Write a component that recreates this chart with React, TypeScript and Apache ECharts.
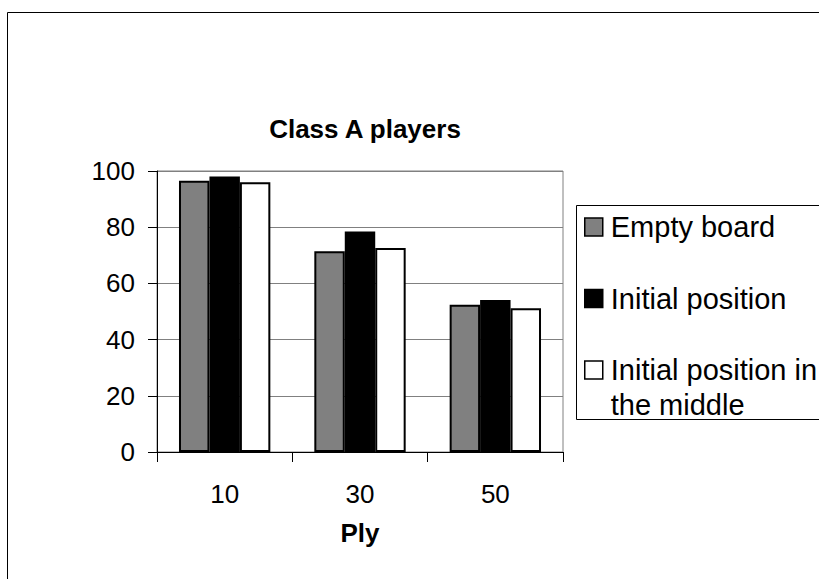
import React, { useEffect, useRef } from "react";
import * as echarts from "echarts";

const categories = ["10", "30", "50"];
const seriesNames = ["Empty board", "Initial position", "Initial position in the middle"];
const emptyBoard = [96.5, 71.4, 52.4];
const initialPosition = [98.0, 78.5, 54.1];
const initialMiddle = [96.0, 72.6, 51.2];
const yTicks = { min: 0, max: 100, interval: 20 };

const FONT = "'Liberation Sans', Arial, sans-serif";

export default function App() {
  const ref = useRef<HTMLDivElement>(null);
  useEffect(() => {
    if (!ref.current) return;
    const chart = echarts.init(ref.current, undefined, { renderer: "svg" });
    const colors = ["#808080", "#000000", "#ffffff"];
    const values = [emptyBoard, initialPosition, initialMiddle];
    const legendText = { fontFamily: FONT, fontSize: 29, color: "#000", lineHeight: 35, padding: [0, 0, 0, 3] };
    chart.setOption({
      animation: false,
      backgroundColor: "#ffffff",
      textStyle: { fontFamily: FONT },
      title: {
        text: "Class A players",
        left: 360,
        top: 111,
        textAlign: "center",
        textStyle: { fontFamily: FONT, fontSize: 26, fontWeight: "bold", color: "#000" },
      },
      graphic: [
        {
          type: "rect",
          shape: { x: 7.5, y: 12.5, width: 900, height: 700 },
          style: { fill: "none", stroke: "#000", lineWidth: 1 },
          silent: true,
          z: -10,
        },
        {
          type: "rect",
          shape: { x: 576.5, y: 205.5, width: 300, height: 214 },
          style: { fill: "#fff", stroke: "#000", lineWidth: 1 },
          silent: true,
          z: -5,
        },
      ],
      legend: [
        {
          data: [seriesNames[0], seriesNames[1]],
          orient: "vertical",
          left: 579,
          top: 204.5,
          itemWidth: 18,
          itemHeight: 18,
          itemGap: 36.5,
          icon: "rect",
          itemStyle: { borderColor: "#000", borderWidth: 1.5 },
          textStyle: legendText,
          selectedMode: false,
        },
        {
          data: [seriesNames[2]],
          orient: "vertical",
          left: 579,
          top: 312.5,
          itemWidth: 18,
          itemHeight: 18,
          icon: "rect",
          itemStyle: { borderColor: "#000", borderWidth: 1.5 },
          formatter: () => "\nInitial position in\nthe middle",
          textStyle: legendText,
          selectedMode: false,
        },
      ],
      grid: {
        left: 157,
        top: 171,
        right: 256,
        bottom: 127,
        show: true,
        borderColor: "#808080",
        borderWidth: 1,
        backgroundColor: "transparent",
      },
      xAxis: {
        type: "category",
        data: categories,
        name: "Ply",
        nameLocation: "middle",
        nameGap: 68,
        nameTextStyle: { fontFamily: FONT, fontSize: 26, fontWeight: "bold", color: "#000" },
        axisLine: { lineStyle: { color: "#000", width: 1 } },
        axisTick: { show: true, length: 10, lineStyle: { color: "#000" } },
        axisLabel: { fontFamily: FONT, fontSize: 26, color: "#000", margin: 29 },
      },
      yAxis: {
        type: "value",
        min: yTicks.min,
        max: yTicks.max,
        interval: yTicks.interval,
        axisLine: { show: true, lineStyle: { color: "#000", width: 1 } },
        axisTick: { show: true, length: 9, lineStyle: { color: "#000" } },
        axisLabel: { fontFamily: FONT, fontSize: 26, color: "#000", margin: 22 },
        splitLine: { show: true, lineStyle: { color: "#808080", width: 1 } },
      },
      series: values.map((v, i) => ({
        name: seriesNames[i],
        type: "bar",
        data: v,
        barGap: "0%",
        barCategoryGap: "32.5%",
        itemStyle: { color: colors[i], borderColor: "#000", borderWidth: 2 },
      })),
    });
    return () => chart.dispose();
  }, []);
  return (
    <div
      ref={ref}
      style={{ position: "fixed", left: 0, top: 0, width: 819, height: 579 }}
    />
  );
}
